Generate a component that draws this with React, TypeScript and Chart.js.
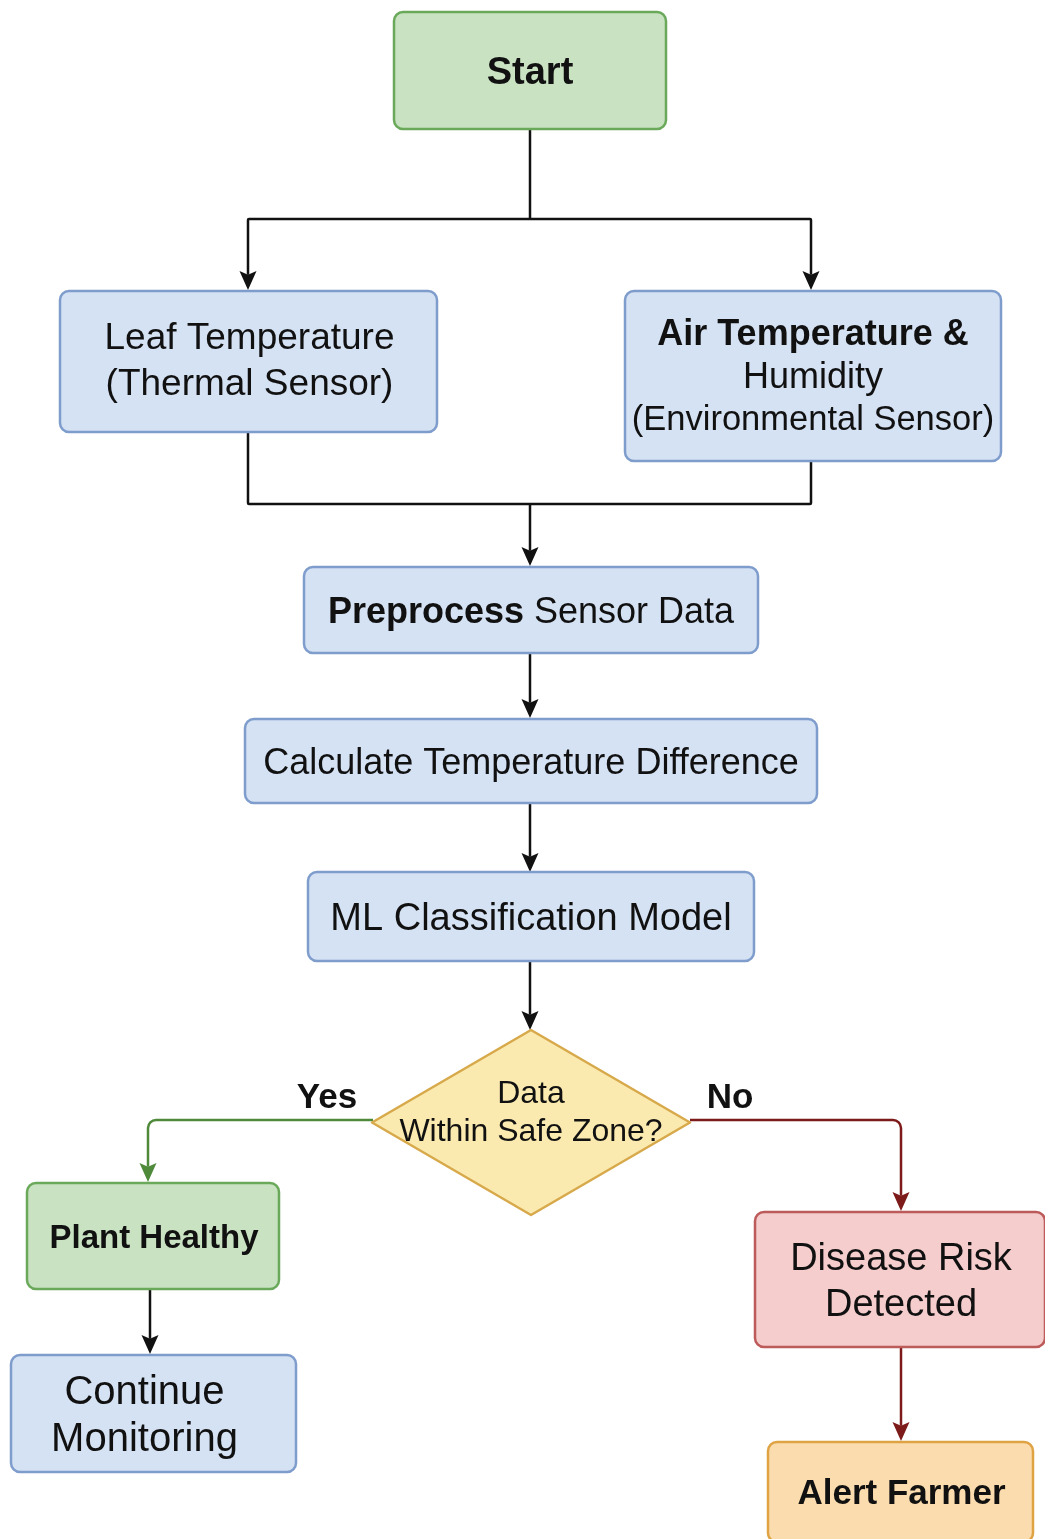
import React, { useEffect, useRef } from "react";
import { Chart, registerables } from "chart.js";

Chart.register(...registerables);

// ---- Diagram data ----
const nodeIds = ["start", "leaf", "air", "prep", "calc", "ml", "decide", "healthy", "monitor", "risk", "alert"];
const nodeText: string[][] = [
  ["**Start**"],
  ["Leaf Temperature", "(Thermal Sensor)"],
  ["**Air Temperature &**", "Humidity", "(Environmental Sensor)"],
  ["**Preprocess** Sensor Data"],
  ["Calculate Temperature Difference"],
  ["ML Classification Model"],
  ["Data", "Within Safe Zone?"],
  ["**Plant Healthy**"],
  ["Continue", "Monitoring"],
  ["Disease Risk", "Detected"],
  ["**Alert Farmer**"],
];
// node centres in diagram units
const nodeX = [530, 248.5, 813, 531, 531, 531, 531, 153, 153.5, 900, 900.5];
const nodeY = [70.5, 361.5, 376, 610, 761, 916.5, 1122.5, 1236, 1413.5, 1279.5, 1492];

const edgeLabels = ["Yes", "No"];

// ---- Layout / style (kept separate from data) ----
const nodeSize = [
  [272, 117], [377, 141], [376, 170], [454, 86], [572, 84], [446, 89],
  [318, 185], [252, 106], [285, 117], [290, 135], [265, 100],
];
const nodeFont = [38, 37, 36, 36, 36, 38, 32, 33, 40, 38, 35];
const nodeLineFont: Record<string, number[]> = { air: [36, 36, 34.5] };
const nodeLineGap = [0, 46, 43, 0, 0, 0, 38, 0, 47, 46, 0];
const nodeTextDx = [0, 1, 0, 0, 0, 0, 0, 1, -9, 1, 1];
const nodeTextDy = [0, -3, -1, 0, 0, 0, 0, 0, 0, 0, 0];
const nodeTheme = ["green", "blue", "blue", "blue", "blue", "blue", "yellow", "green", "blue", "red", "orange"];
const themes: Record<string, { fill: string; stroke: string }> = {
  green: { fill: "#c8e2c2", stroke: "#6aa95a" },
  blue: { fill: "#d5e2f4", stroke: "#7f9dcc" },
  yellow: { fill: "#fbeab0", stroke: "#d7a94b" },
  red: { fill: "#f5cdcd", stroke: "#bd5a5a" },
  orange: { fill: "#fbdcae", stroke: "#e0a344" },
};

type Edge = { pts: number[][]; color: string; arrow: boolean };
const edges: Edge[] = [
  { pts: [[530, 129], [530, 219]], color: "#111", arrow: false },
  { pts: [[530, 219], [248, 219], [248, 290]], color: "#111", arrow: true },
  { pts: [[530, 219], [811, 219], [811, 290]], color: "#111", arrow: true },
  { pts: [[248, 432], [248, 504], [530, 504]], color: "#111", arrow: false },
  { pts: [[811, 461], [811, 504], [530, 504]], color: "#111", arrow: false },
  { pts: [[530, 504], [530, 566]], color: "#111", arrow: true },
  { pts: [[530, 653], [530, 718]], color: "#111", arrow: true },
  { pts: [[530, 803], [530, 872]], color: "#111", arrow: true },
  { pts: [[530, 961], [530, 1030]], color: "#111", arrow: true },
  { pts: [[373, 1120], [148, 1120], [148, 1182]], color: "#4e8a3a", arrow: true },
  { pts: [[690, 1120], [901, 1120], [901, 1211]], color: "#7d1a1a", arrow: true },
  { pts: [[150, 1289], [150, 1354]], color: "#111", arrow: true },
  { pts: [[901, 1347], [901, 1441]], color: "#7d1a1a", arrow: true },
];
const edgeLabelX = [327, 730];
const edgeLabelY = [1098, 1098];

const FONT = '"Liberation Sans", Arial, Helvetica, sans-serif';

function parseLine(s: string): { t: string; b: boolean }[] {
  const out: { t: string; b: boolean }[] = [];
  const parts = s.split("**");
  parts.forEach((p, i) => {
    if (p.length) out.push({ t: p, b: i % 2 === 1 });
  });
  return out;
}

const diagramPlugin = {
  id: "diagram",
  afterDraw(chart: any) {
    const ctx: CanvasRenderingContext2D = chart.ctx;
    const xs = chart.scales.x;
    const ys = chart.scales.y;
    const X = (v: number) => xs.getPixelForValue(v);
    const Y = (v: number) => ys.getPixelForValue(v);
    ctx.save();
    ctx.fillStyle = "#ffffff";
    ctx.fillRect(0, 0, chart.width, chart.height);

    // edges
    edges.forEach((e) => {
      ctx.strokeStyle = e.color;
      ctx.fillStyle = e.color;
      ctx.lineWidth = 2.5;
      ctx.lineJoin = "round";
      const pts = e.pts.map((p) => [X(p[0]), Y(p[1])]);
      const last = pts[pts.length - 1];
      const prev = pts[pts.length - 2];
      const ah = 19;
      const aw = 8.5;
      const dx = last[0] - prev[0];
      const dy = last[1] - prev[1];
      const len = Math.hypot(dx, dy) || 1;
      const ux = dx / len, uy = dy / len;
      ctx.beginPath();
      ctx.moveTo(pts[0][0], pts[0][1]);
      for (let i = 1; i < pts.length - 1; i++) {
        ctx.arcTo(pts[i][0], pts[i][1], pts[i + 1][0], pts[i + 1][1], e.color === "#111" ? 1 : 8);
      }
      if (e.arrow) ctx.lineTo(last[0] - ux * ah * 0.8, last[1] - uy * ah * 0.8);
      else ctx.lineTo(last[0], last[1]);
      ctx.stroke();
      if (e.arrow) {
        ctx.beginPath();
        ctx.moveTo(last[0], last[1]);
        ctx.lineTo(last[0] - ux * ah - uy * aw, last[1] - uy * ah + ux * aw);
        ctx.lineTo(last[0] - ux * ah * 0.8, last[1] - uy * ah * 0.8);
        ctx.lineTo(last[0] - ux * ah + uy * aw, last[1] - uy * ah - ux * aw);
        ctx.closePath();
        ctx.fill();
      }
    });

    // nodes
    nodeIds.forEach((id, i) => {
      const cx = X(nodeX[i]);
      const cy = Y(nodeY[i]);
      const [w, h] = nodeSize[i];
      const th = themes[nodeTheme[i]];
      ctx.fillStyle = th.fill;
      ctx.strokeStyle = th.stroke;
      ctx.lineWidth = 2.5;
      ctx.beginPath();
      if (id === "decide") {
        ctx.moveTo(cx, cy - h / 2);
        ctx.lineTo(cx + w / 2, cy);
        ctx.lineTo(cx, cy + h / 2);
        ctx.lineTo(cx - w / 2, cy);
        ctx.closePath();
      } else {
        ctx.roundRect(cx - w / 2, cy - h / 2, w, h, 9);
      }
      ctx.fill();
      ctx.stroke();

      const lines = nodeText[i];
      const gap = nodeLineGap[i];
      ctx.fillStyle = "#111";
      ctx.textBaseline = "middle";
      ctx.textAlign = "left";
      const offset = (id === "decide" ? -12 : 0) + nodeTextDy[i];
      const tcx = cx + nodeTextDx[i];
      lines.forEach((ln, li) => {
        const fs = nodeLineFont[id] ? nodeLineFont[id][li] : nodeFont[i];
        const y = cy + offset + (li - (lines.length - 1) / 2) * gap + fs * 0.08;
        const segs = parseLine(ln);
        let total = 0;
        segs.forEach((s) => {
          ctx.font = `${s.b ? "bold " : ""}${fs}px ${FONT}`;
          total += ctx.measureText(s.t).width;
        });
        let x = tcx - total / 2;
        segs.forEach((s) => {
          ctx.font = `${s.b ? "bold " : ""}${fs}px ${FONT}`;
          ctx.fillText(s.t, x, y);
          x += ctx.measureText(s.t).width;
        });
      });
    });

    // edge labels
    edgeLabels.forEach((t, i) => {
      ctx.font = `bold 35px ${FONT}`;
      ctx.textAlign = "center";
      ctx.textBaseline = "middle";
      ctx.fillStyle = "#111";
      ctx.fillText(t, X(edgeLabelX[i]), Y(edgeLabelY[i]));
    });
    ctx.restore();
  },
};

export default function App() {
  const ref = useRef<HTMLCanvasElement | null>(null);
  useEffect(() => {
    document.body.style.margin = "0";
    const canvas = ref.current!;
    const chart = new Chart(canvas, {
      type: "scatter",
      data: {
        datasets: [
          {
            label: "nodes",
            data: nodeX.map((x, i) => ({ x, y: nodeY[i] })),
            pointRadius: 0,
            pointHoverRadius: 0,
          },
        ],
      },
      options: {
        animation: false,
        responsive: false,
        maintainAspectRatio: false,
        devicePixelRatio: 1,
        layout: { padding: 0 },
        events: [],
        plugins: { legend: { display: false }, tooltip: { enabled: false } },
        scales: {
          x: { type: "linear", min: 0, max: 1045, display: false },
          y: { type: "linear", min: 0, max: 1539, reverse: true, display: false },
        },
      },
      plugins: [diagramPlugin],
    });
    return () => chart.destroy();
  }, []);
  return (
    <div style={{ width: 1045, height: 1539, overflow: "hidden", background: "#fff" }}>
      <canvas ref={ref} width={1045} height={1539} style={{ display: "block" }} />
    </div>
  );
}
